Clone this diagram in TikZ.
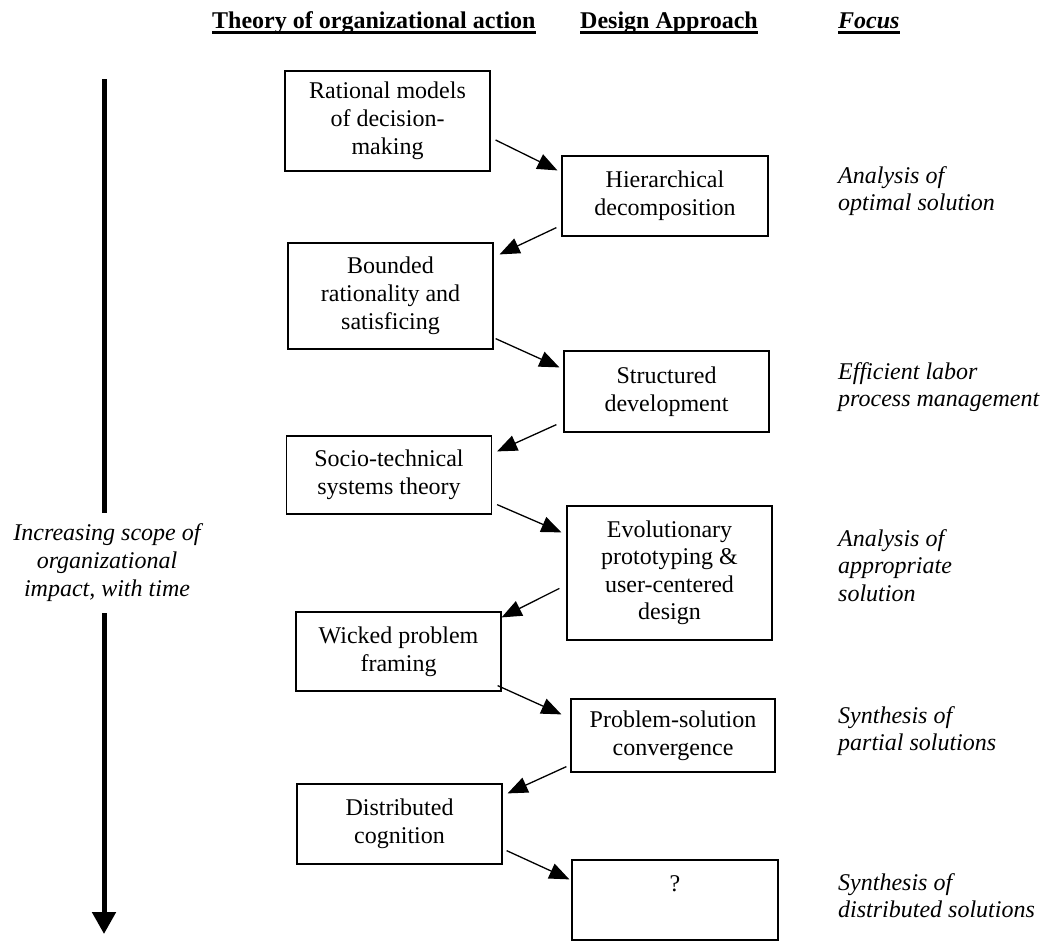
\documentclass[tikz,border=0pt]{standalone}
\usepackage{fontspec}
\setmainfont{Liberation Serif}
\usetikzlibrary{arrows.meta}
\newcommand\myfs{\fontsize{24}{27.6}\selectfont}
\tikzset{
  box/.style={draw, line width=1.2pt, minimum width=205pt, inner sep=0pt, align=center, font=\myfs},
  lnk/.style={line width=1.3pt, -{Triangle[length=20pt,width=16pt]}},
  focus/.style={anchor=north west, align=left, font=\myfs\itshape, inner sep=0pt},
  hdr/.style={anchor=base west, font=\myfs\bfseries, inner sep=0pt},
  uline/.style={line width=2.5pt},
  bigarrow/.style={line width=5pt},
}
\begin{document}
\begin{tikzpicture}[x=1pt,y=-1pt]
\useasboundingbox (0,0) rectangle (1049,942);
% headers
\node[hdr] (h1) at (212,29) {Theory of organizational action};
\node[hdr] (h2) at (580,29) {Design Approach};
\node[hdr, font=\myfs\bfseries\itshape] (h3) at (838,29) {Focus};
\foreach \h in {h1,h2,h3}
  \draw[uline] ([yshift=-3.5pt]\h.base west) -- ([yshift=-3.5pt]\h.base east);
% left boxes
\node[box, minimum height=100pt] (l1) at (387.5,121) {\strut Rational models\\of decision-\\making\strut};
\node[box, minimum height=106pt] (l2) at (390.5,296) {\strut Bounded\\rationality and\\satisficing\strut};
\node[box, minimum height=78pt] (l3) at (389,475) {Socio-technical\\systems theory};
\node[box, minimum height=79pt] (l4) at (398.5,651.5) {Wicked problem\\framing};
\node[box, minimum height=80pt] (l5) at (399.5,824) {Distributed\\cognition};
% right boxes
\node[box, minimum width=206pt, minimum height=80pt] (r1) at (665,196) {Hierarchical\\decomposition};
\node[box, minimum height=81pt] (r2) at (666.5,391.5) {Structured\\development};
\node[box, minimum height=134pt] (r3) at (669.5,573) {\strut Evolutionary\\prototyping \&\\user-centered\\design\strut};
\node[box, minimum width=204pt, minimum height=73pt] (r4) at (673,735.5) {Problem-solution\\convergence};
\node[box, minimum width=206pt, minimum height=80pt] (r5) at (675,900) {\strut?\\\strut};
% connectors
\draw[lnk] ([shift={(5,19)}]l1.east) -- ([shift={(-4,15)}]r1.north west);
\draw[lnk] ([shift={(-5,-9)}]r1.south west) -- ([shift={(6,12)}]l2.north east);
\draw[lnk] ([shift={(2,-11)}]l2.south east) -- ([shift={(-4,17)}]r2.north west);
\draw[lnk] ([shift={(-7,-8)}]r2.south west) -- ([shift={(5,16)}]l3.north east);
\draw[lnk] ([shift={(5,-10)}]l3.south east) -- ([shift={(-5,27)}]r3.north west);
\draw[lnk] ([shift={(-7,83)}]r3.north west) -- ([shift={(0,6)}]l4.north east);
\draw[lnk] ([shift={(-4,-6)}]l4.south east) -- ([shift={(-9,16)}]r4.north west);
\draw[lnk] ([shift={(-4,-6)}]r4.south west) -- ([shift={(5,10)}]l5.north east);
\draw[lnk] ([shift={(4,-14)}]l5.south east) -- ([shift={(-2,20)}]r5.north west);
% focus
\node[focus] (f1) at (838,163.7) {\strut Analysis of\\optimal solution};
\node[focus] (f2) at (838,359.7) {\strut Efficient labor\\process management};
\node[focus] (f3) at (838,526.7) {\strut Analysis of\\appropriate\\solution};
\node[focus] (f4) at (838,703.7) {\strut Synthesis of\\partial solutions};
\node[focus] (f5) at (838,870.7) {\strut Synthesis of\\distributed solutions};
% big arrow
\node[align=center, font=\myfs\itshape, inner xsep=0pt, inner ysep=8.6pt] (scope) at (107,563)
  {\strut Increasing scope of\\organizational\\impact, with time\strut};
\coordinate (atop) at (104,79);
\coordinate (abot) at (104,934);
\draw[bigarrow] (atop) -- (atop |- scope.north);
\draw[bigarrow, -{Triangle[length=22pt,width=23pt]}] (abot |- scope.south) -- (abot);
\end{tikzpicture}
\end{document}
